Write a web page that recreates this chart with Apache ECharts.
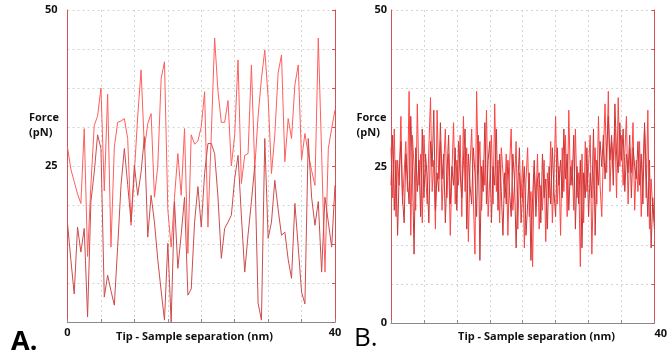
<!DOCTYPE html>
<html>
<head>
<meta charset="utf-8">
<script src="https://cdn.jsdelivr.net/npm/echarts@6/dist/echarts.min.js"></script>
<style>html,body{margin:0;padding:0;background:#fff}#c{width:670px;height:359px}</style>
</head>
<body>
<div id="c"></div>
<script>
// Panel A: x step 0.5 nm (0..40)
const stepA = 0.5;
const seriesA1 = [28,24.5,22.5,20.5,19,31,10.5,22,31.5,33,37.5,21,36.5,12,28,32,32.2,32.6,29.4,15.5,24,33,40.4,27.8,31.8,33.4,20,25,39,41.7,18,12,20,27,20.3,31,11,30,28.5,29,31.3,36.9,15.2,30,45.5,37,32,32,35.5,25,30,42,22.2,26.7,27,41.2,24.6,33,39,43.6,36,23.8,30,40,42.8,25.7,32.6,29.4,38,41.2,26,30.2,27,24.3,21.9,45.5,27,8,27.8,31,34];
const seriesA2 = [15.8,10,4.5,15.2,11.2,15,0.8,19.3,24,30,27.8,4,7.5,5,2.7,12,21.9,27.8,22,16,25.1,20.3,24,29.7,13.6,20.3,16,10,5,0.3,12.6,0,19.3,8.6,14,20,4.3,5.3,16,21.7,15.2,23.8,28.6,28.6,27,20,10.2,15,16,17.1,23,26.7,17,8,14,19.3,25.1,3,0.3,29.4,13.4,16,22.7,18,13.9,14.4,10,7,19,12,4.8,2.9,29.4,20,15.5,19.3,8,20,16,12,21.9];
// Panel B: x step 0.25 nm (0..40)
const stepB = 0.25;
const seriesB1 = [28,20,31,17,26,22,33,19,24,29,
21,37,14,30,25,18,35,22,27,16,
30,24,19,28,36,21,26,15,34,23,
29,18,25,31,20,27,14,24,32,19,
26,22,30,17,33,21,28,13,25,31,
20,11,37,24,29,18,26,22,34,17,
23,30,19,35,21,26,16,28,24,20,
27,14,25,31,18,22,29,15,24,20,
26,12,23,28,17,21,9,25,19,27,
15,22,18,26,13,24,20,29,16,23,
33,19,25,14,28,21,30,17,34,22,
26,18,31,20,24,9,27,16,29,21,
25,30,11,23,28,19,33,22,17,27,
35,24,37,21,29,26,31,20,36,25,
30,22,27,33,19,28,24,32,18,26,
21,29,17,25,31,20,34,15,23,18,
16];
const seriesB2 = [22,30,18,26,14,24,29,20,16,27,
23,19,33,25,11,28,21,26,17,31,
20,27,23,16,29,25,34,18,24,21,
32,23,27,16,24,30,19,25,22,28,
18,29,24,20,26,31,15,27,22,19,
28,24,17,30,10,25,21,32,19,26,
29,16,25,22,31,18,27,21,14,24,
19,26,21,17,27,23,12,22,28,16,
21,25,14,19,24,10,20,26,17,23,
24,16,27,20,23,15,25,19,28,21,
17,28,22,26,20,31,23,27,18,25,
22,30,15,25,19,26,12,24,20,28,
17,24,20,31,14,26,22,29,25,30,
23,28,33,26,30,22,35,27,24,32,
26,31,21,27,24,30,20,28,25,23,
29,22,27,19,32,24,17,26,12,20,
15];
const yTicksA = [25, 50];
const yTicksB = [0, 25, 50];
const xTicksA = [0, 40];
const xTicksB = [40];
const yName = 'Force\n(pN)';
const xName = 'Tip - Sample separation (nm)';

const pairs = (arr, step) => arr.map((v, i) => [i * step, v]);
const FONT = '"Open Sans", sans-serif';
const lab = {fontFamily: FONT, fontWeight: 'bold', fontSize: 11, color: '#111'};
const redAxis = '#d05252';
const gridCol = '#d4d4d4';

function xAxisCfg(gi, ticks, align) {
  return {
    type: 'value', gridIndex: gi, min: 0, max: 40, interval: 5,
    axisLine: {lineStyle: {color: '#8a8a8a', width: 1}},
    axisTick: {show: true, inside: true, length: 3, lineStyle: {color: '#8a8a8a'}},
    splitLine: {show: true, lineStyle: {color: gridCol, type: [2, 3]}},
    axisLabel: Object.assign({}, lab, {margin: 5, align: align, showMinLabel: true, showMaxLabel: true,
      formatter: v => ticks.includes(v) ? String(v) : ''})
  };
}
function yAxisCfg(gi, ticks, margin) {
  return {
    type: 'value', gridIndex: gi, min: 0, max: 50, interval: 6.25, position: 'left',
    axisLine: {show: true, lineStyle: {color: redAxis, width: 1}},
    axisTick: {show: false},
    splitLine: {show: true, lineStyle: {color: gridCol, type: [2, 3]}},
    axisLabel: Object.assign({}, lab, {margin: margin, showMinLabel: true, showMaxLabel: true,
      formatter: v => ticks.includes(v) ? String(v) : ''})
  };
}
function yRightCfg(gi) {
  return {
    type: 'value', gridIndex: gi, min: 0, max: 50, interval: 6.25, position: 'right',
    axisLine: {show: true, lineStyle: {color: redAxis, width: 1}},
    axisTick: {show: true, inside: true, length: 3, lineStyle: {color: redAxis}},
    splitLine: {show: false}, axisLabel: {show: false}
  };
}

const chart = echarts.init(document.getElementById('c'), null, {renderer: 'canvas'});
chart.setOption({
  animation: false,
  backgroundColor: '#fff',
  grid: [
    {left: 67.5, top: 10, width: 267.5, height: 312},
    {left: 391, top: 10, width: 270.5, height: 313}
  ],
  xAxis: [xAxisCfg(0, xTicksA, 'center'), xAxisCfg(1, xTicksB, 'left')],
  yAxis: [yAxisCfg(0, yTicksA, 10), yRightCfg(0), yAxisCfg(1, yTicksB, 4), yRightCfg(1)],
  series: [
    {type: 'line', xAxisIndex: 0, yAxisIndex: 0, data: pairs(seriesA1, stepA), showSymbol: false, lineStyle: {color: '#ff5e5e', width: 1}},
    {type: 'line', xAxisIndex: 0, yAxisIndex: 0, data: pairs(seriesA2, stepA), showSymbol: false, lineStyle: {color: '#cc4c4c', width: 1}},
    {type: 'line', xAxisIndex: 1, yAxisIndex: 2, data: pairs(seriesB1, stepB), showSymbol: false, lineStyle: {color: '#ff4444', width: 1}},
    {type: 'line', xAxisIndex: 1, yAxisIndex: 2, data: pairs(seriesB2, stepB), showSymbol: false, lineStyle: {color: '#c83838', width: 1}}
  ],
  graphic: [
    {type: 'text', left: 29, top: 110, style: {text: yName, font: 'bold 11px ' + FONT, fill: '#111', lineHeight: 15}},
    {type: 'text', left: 356.5, top: 110, style: {text: yName, font: 'bold 11px ' + FONT, fill: '#111', lineHeight: 15}},
    {type: 'text', x: 194.5, y: 337, style: {text: xName, font: 'bold 11px ' + FONT, fill: '#111', align: 'center', verticalAlign: 'middle'}},
    {type: 'text', x: 536.5, y: 337, style: {text: xName, font: 'bold 11px ' + FONT, fill: '#111', align: 'center', verticalAlign: 'middle'}},
    {type: 'text', x: 11, y: 342, style: {text: 'A.', font: 'bold 27px ' + FONT, fill: '#000', align: 'left', verticalAlign: 'middle'}},
    {type: 'text', x: 354, y: 339, style: {text: 'B.', font: 'normal 26px ' + FONT, fill: '#000', align: 'left', verticalAlign: 'middle'}}
  ]
});
</script>
</body>
</html>
